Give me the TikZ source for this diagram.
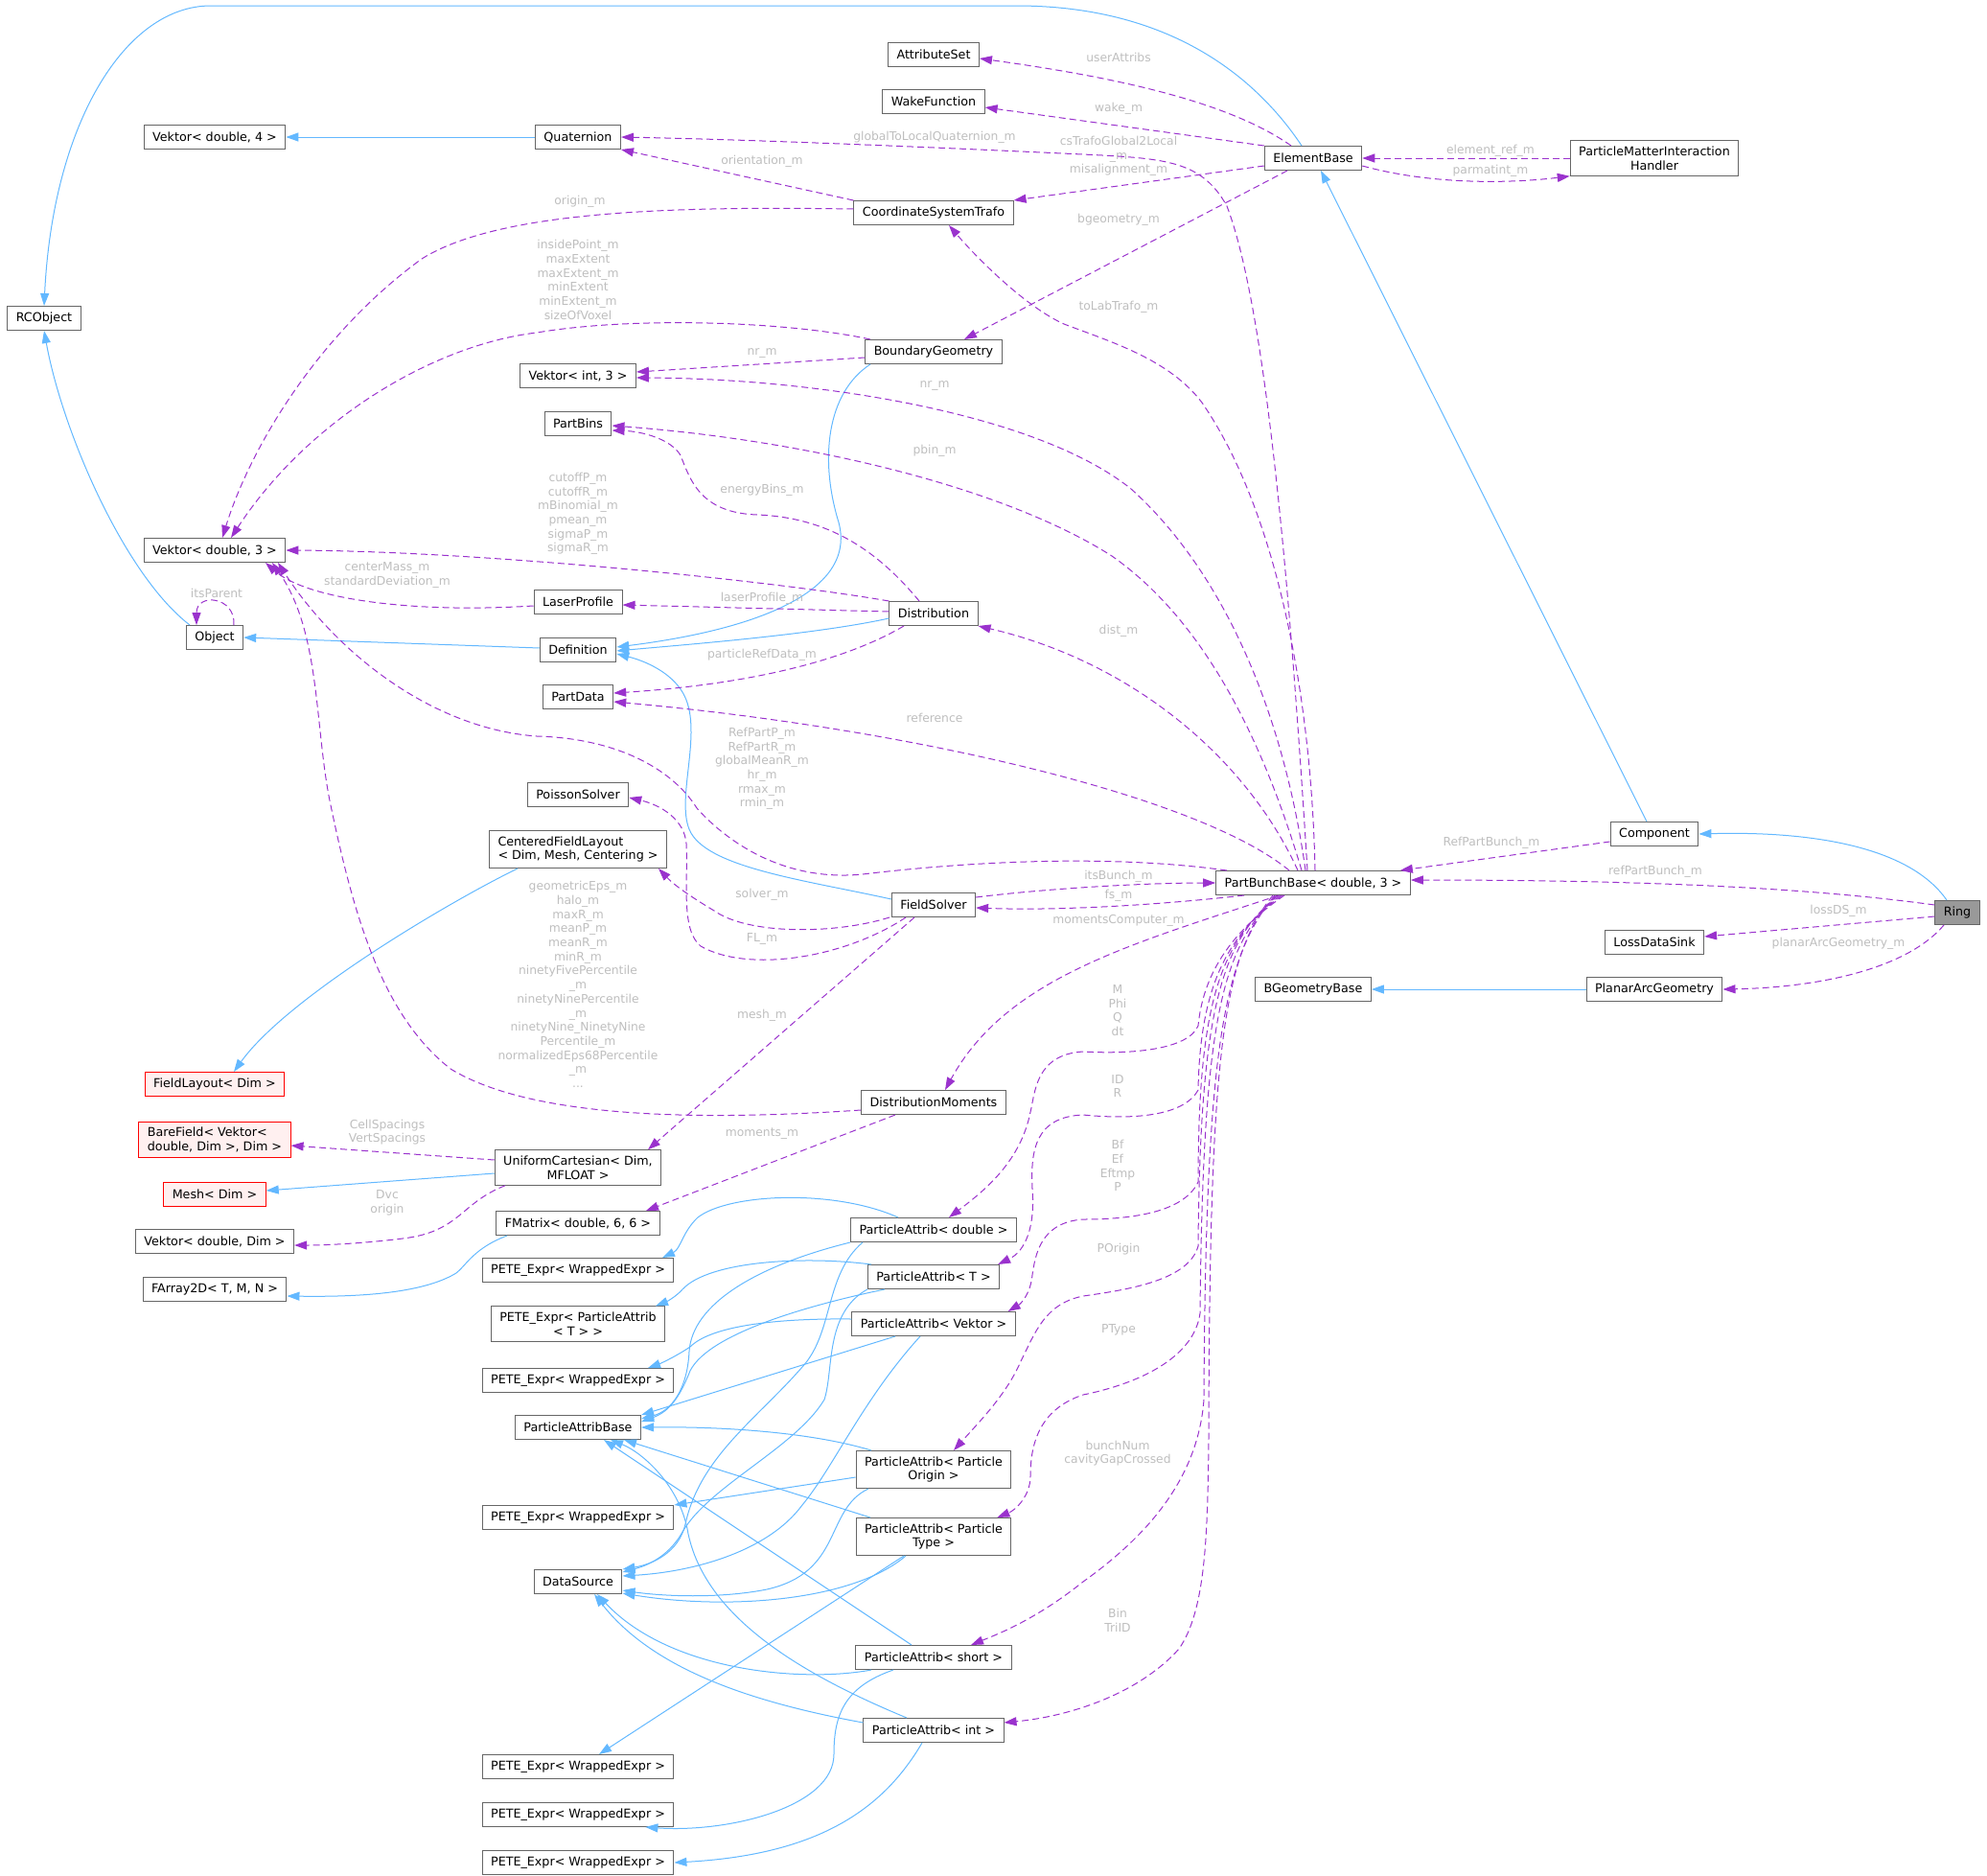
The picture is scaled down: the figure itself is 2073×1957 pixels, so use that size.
\documentclass[tikz,border=0pt]{standalone}
\usepackage{fontspec}
\setmainfont{DejaVu Sans}
\usetikzlibrary{arrows.meta}
\definecolor{EdgeBlue}{HTML}{63B8FF}
\definecolor{EdgePurple}{HTML}{9A32CD}
\definecolor{LabelGrey}{HTML}{BEBEBE}
\definecolor{NodeBorder}{HTML}{666666}
\definecolor{MissingBorder}{HTML}{FF0000}
\definecolor{MissingBg}{HTML}{FFF0F0}
\definecolor{FocusBg}{HTML}{999999}
\newcommand{\dxfont}{\fontsize{12.7}{14.7}\selectfont}
\newcommand{\dxlblfont}{\fontsize{12.3}{14.7}\selectfont}
\tikzset{
    classbox/.style={rectangle, draw=NodeBorder, fill=white, line width=1pt, font=\dxfont, align=center, inner xsep=9pt, inner ysep=6pt, minimum height=25pt},
    missingbox/.style={classbox, draw=MissingBorder, fill=MissingBg},
    focusbox/.style={classbox, fill=FocusBg},
    elabel/.style={font=\dxlblfont, text=LabelGrey, align=center, inner sep=0pt}
}
\begin{document}
\begin{tikzpicture}[
        x=1pt, y=-1pt,
        inherit/.style={draw=EdgeBlue, line width=1pt, -{Triangle[length=13pt, width=9pt]}},
        usage/.style={draw=EdgePurple, line width=1pt, dash pattern=on 7pt off 4pt, -{Triangle[length=13pt, width=9pt]}}
    ]
    \useasboundingbox (0,0) rectangle (2073,1957);

    % --- LEFT COLUMN ---
    \node[classbox] (rcobject) at (46,332) {RCObject};
    \node[classbox] (vdfour) at (224,143) {Vektor< double, 4 >};
    \node[classbox] (vdthree) at (224,574) {Vektor< double, 3 >};
    \node[classbox] (object) at (224,665) {Object};
    \node[missingbox] (fieldlayout) at (224,1131) {FieldLayout< Dim >};
    \node[missingbox, align=left] (barefield) at (224,1189) {BareField< Vektor<\\ double, Dim >, Dim >};
    \node[missingbox] (mesh) at (224,1246) {Mesh< Dim >};
    \node[classbox] (vddim) at (224,1295) {Vektor< double, Dim >};
    \node[classbox] (farray) at (224,1345) {FArray2D< T, M, N >};

    % --- SECOND COLUMN ---
    \node[classbox] (quaternion) at (603,143) {Quaternion};
    \node[classbox] (vithree) at (603,392) {Vektor< int, 3 >};
    \node[classbox] (partbins) at (603,442) {PartBins};
    \node[classbox] (laserprofile) at (603,628) {LaserProfile};
    \node[classbox] (definition) at (603,678) {Definition};
    \node[classbox] (partdata) at (603,727) {PartData};
    \node[classbox] (poisson) at (603,829) {PoissonSolver};
    \node[classbox, align=left] (cfl) at (603,886) {CenteredFieldLayout\\< Dim, Mesh, Centering >};
    \node[classbox] (unicart) at (603,1218) {UniformCartesian< Dim,\\MFLOAT >};
    \node[classbox] (fmatrix) at (603,1276) {FMatrix< double, 6, 6 >};
    \node[classbox] (petepat) at (603,1381) {PETE\_Expr< ParticleAttrib\\< T > >};
    \node[classbox] (pabase) at (603,1489) {ParticleAttribBase};
    \node[classbox] (datasource) at (603,1650) {DataSource};
    \foreach \pname/\py in {peteA/1325, peteB/1440, peteC/1583, peteD/1843, peteE/1893, peteF/1943}
        \node[classbox] (\pname) at (603,\py) {PETE\_Expr< WrappedExpr >};

    % --- THIRD COLUMN ---
    \node[classbox] (attrset) at (974,57) {AttributeSet};
    \node[classbox] (wakefn) at (974,106) {WakeFunction};
    \node[classbox] (cstrafo) at (974,222) {CoordinateSystemTrafo};
    \node[classbox] (boundgeo) at (974,367) {BoundaryGeometry};
    \node[classbox] (distrib) at (974,640) {Distribution};
    \node[classbox] (fieldsolver) at (974,944) {FieldSolver};
    \node[classbox] (distmoments) at (974,1150) {DistributionMoments};
    \node[classbox] (padouble) at (974,1283) {ParticleAttrib< double >};
    \node[classbox] (pat) at (974,1332) {ParticleAttrib< T >};
    \node[classbox] (pavektor) at (974,1381) {ParticleAttrib< Vektor >};
    \node[classbox] (paorigin) at (974,1533) {ParticleAttrib< Particle\\Origin >};
    \node[classbox] (patype) at (974,1603) {ParticleAttrib< Particle\\Type >};
    \node[classbox] (pashort) at (974,1729) {ParticleAttrib< short >};
    \node[classbox] (paint) at (974,1805) {ParticleAttrib< int >};

    % --- RIGHT COLUMNS ---
    \node[classbox] (elementbase) at (1370,165) {ElementBase};
    \node[classbox] (partbunch) at (1370,921) {PartBunchBase< double, 3 >};
    \node[classbox] (bgeobase) at (1370,1032) {BGeometryBase};
    \node[classbox] (pmih) at (1726,165) {ParticleMatterInteraction\\Handler};
    \node[classbox] (component) at (1726,870) {Component};
    \node[classbox] (lossds) at (1726,983) {LossDataSink};
    \node[classbox] (planararc) at (1726,1032) {PlanarArcGeometry};
    \node[focusbox] (ring) at (2042,952) {Ring};

    % --- INHERITANCE ---
    \draw[inherit] ([xshift=-12pt]elementbase.north) .. controls (1310,80) and (1220,6) .. (1060,6) -- (220,6) .. controls (130,6) and (55,130) .. (rcobject.north);
    \draw[inherit] ([xshift=-26pt]object.north) .. controls (130,600) and (65,450) .. (rcobject.south);
    \draw[inherit] ([yshift=2pt]definition.west) -- (object.east);
    \draw[inherit] ([xshift=-66pt]boundgeo.south) .. controls (862,410) and (855,480) .. (875,545) .. controls (895,620) and (780,658) .. ([yshift=3pt]definition.east);
    \draw[inherit] ([yshift=-5pt]distrib.west) .. controls (850,662) and (720,672) .. ([yshift=-1pt]definition.east);
    \draw[inherit] ([yshift=6pt]fieldsolver.west) .. controls (840,918) and (735,905) .. (719,865) .. controls (705,830) and (735,760) .. (712,722) .. controls (700,702) and (675,690) .. ([yshift=-4pt]definition.east);
    \draw[inherit] ([xshift=-63pt]cfl.south) .. controls (470,940) and (300,1040) .. ([xshift=20pt]fieldlayout.north);
    \draw[inherit] ([yshift=-6pt]unicart.west) -- ([yshift=4pt]mesh.east);
    \draw[inherit] ([xshift=-74pt]fmatrix.south) .. controls (495,1302) and (488,1318) .. (476,1328) .. controls (440,1350) and (370,1353) .. ([yshift=-7pt]farray.east);
    \draw[inherit] (planararc.west) -- (bgeobase.east);
    \draw[inherit] ([xshift=-11pt]ring.north) .. controls (1990,880) and (1880,867) .. (component.east);
    \draw[inherit] ([xshift=-8pt]component.north) -- ([xshift=8pt]elementbase.south);
    \draw[inherit] (quaternion.west) -- (vdfour.east);

    % --- PARTICLE ATTRIBUTES ---
    \draw[inherit] ([xshift=-37pt]padouble.north) .. controls (870,1240) and (760,1245) .. (728,1270) .. controls (712,1285) and (710,1303) .. ([xshift=88pt]peteA.north);
    \draw[inherit] (padouble.south west) .. controls (790,1320) and (722,1360) .. (719,1410) .. controls (717,1450) and (700,1472) .. ([yshift=9pt]pabase.east);
    \draw[inherit] ([xshift=-74pt]padouble.south) .. controls (860,1330) and (870,1390) .. (837,1426) .. controls (790,1480) and (730,1520) .. (715,1590) .. controls (708,1620) and (680,1632) .. (datasource.north east);
    \draw[inherit] ([xshift=-65pt]pat.north) .. controls (840,1310) and (740,1315) .. (712,1345) .. controls (705,1353) and (695,1358) .. ([xshift=81pt]petepat.north);
    \draw[inherit] ([xshift=-51pt]pat.south) .. controls (850,1360) and (740,1390) .. (720,1430) .. controls (710,1455) and (700,1472) .. ([yshift=6pt]pabase.east);
    \draw[inherit] (pat.south west) .. controls (860,1370) and (870,1430) .. (860,1460) .. controls (830,1510) and (740,1550) .. (712,1598) .. controls (700,1620) and (680,1632) .. ([yshift=-3pt]datasource.north east);
    \draw[inherit] ([yshift=5pt]pavektor.west) .. controls (800,1375) and (740,1385) .. (720,1405) .. controls (705,1415) and (690,1422) .. ([xshift=73pt]peteB.north);
    \draw[inherit] ([xshift=-40pt]pavektor.south) -- (pabase.north east);
    \draw[inherit] ([xshift=-14pt]pavektor.south) .. controls (900,1460) and (870,1530) .. (837,1570) .. controls (800,1620) and (720,1640) .. ([yshift=6pt]datasource.east);
    \draw[inherit] ([yshift=-8pt]paorigin.west) -- (peteC.north east);
    \draw[inherit] ([xshift=-65pt]paorigin.north) .. controls (850,1495) and (760,1488) .. (pabase.east);
    \draw[inherit] ([xshift=-68pt]paorigin.south) .. controls (860,1575) and (880,1640) .. (800,1658) .. controls (750,1668) and (690,1665) .. ([yshift=4pt]datasource.south east);
    \draw[inherit] ([xshift=-31pt]patype.south) -- ([xshift=22pt]peteD.north);
    \draw[inherit] ([xshift=-66pt]patype.north) -- ([xshift=48pt]pabase.south);
    \draw[inherit] ([xshift=-29pt]patype.south) .. controls (890,1670) and (760,1680) .. ([yshift=1pt]datasource.south east);
    \draw[inherit] ([xshift=-42pt]pashort.south) .. controls (880,1760) and (870,1790) .. (870,1830) .. controls (870,1885) and (760,1912) .. ([xshift=-30pt]peteE.south east);
    \draw[inherit] ([xshift=-23pt]pashort.north) -- ([xshift=27pt]pabase.south);
    \draw[inherit] ([xshift=-65pt]pashort.south) .. controls (840,1755) and (700,1745) .. ([xshift=20pt]datasource.south);
    \draw[inherit] ([xshift=-12pt]paint.south) .. controls (920,1890) and (850,1935) .. (peteF.east);
    \draw[inherit] ([xshift=-28pt]paint.north) .. controls (820,1740) and (735,1680) .. (718,1600) .. controls (710,1550) and (670,1515) .. ([xshift=34pt]pabase.south);
    \draw[inherit] ([yshift=8pt]paint.west) .. controls (780,1775) and (680,1740) .. ([xshift=17pt]datasource.south);

    % --- ELEMENT BASE MEMBERS ---
    \draw[usage] ([xshift=-23pt]elementbase.north) .. controls (1280,105) and (1160,80) .. ([yshift=-4pt]attrset.east);
    \draw[usage] (elementbase.north west) -- ([yshift=-6pt]wakefn.east);
    \draw[usage] ([yshift=-8pt]elementbase.west) -- (cstrafo.north east);
    \draw[usage] ([xshift=-27pt]elementbase.south) -- ([xshift=32pt]boundgeo.north);
    \draw[usage] ([yshift=-8pt]elementbase.east) .. controls (1490,192) and (1570,192) .. (pmih.south west);
    \draw[usage] (pmih.west) -- (elementbase.east);
    \node[elabel] (lbluserattribs) at (1167,60) {userAttribs};
    \node[elabel] (lblwake) at (1167,113) {wake\_m};
    \node[elabel] (lblcstrafo) at (1167,163) {csTrafoGlobal2Local\\\_m\\misalignment\_m};
    \node[elabel] (lblbgeometry) at (1167,229) {bgeometry\_m};
    \node[elabel] (lblelementref) at (1555,157) {element\_ref\_m};
    \node[elabel] (lblparmatint) at (1555,178) {parmatint\_m};

    % --- GEOMETRY AND DISTRIBUTION MEMBERS ---
    \draw[usage] (cstrafo.north west) -- (quaternion.south east);
    \draw[usage] ([yshift=4pt]cstrafo.west) .. controls (700,215) and (520,220) .. (440,270) .. controls (330,350) and (260,470) .. ([xshift=8pt]vdthree.north);
    \draw[usage] ([xshift=-66pt]boundgeo.north) .. controls (820,335) and (660,330) .. (560,347) .. controls (450,360) and (320,440) .. ([xshift=17pt]vdthree.north);
    \draw[usage] ([yshift=-6pt]boundgeo.west) -- ([yshift=4pt]vithree.east);
    \draw[usage] ([xshift=-15pt]distrib.north) .. controls (920,580) and (870,540) .. (790,537) .. controls (730,535) and (720,500) .. (710,475) .. controls (700,458) and (670,450) .. ([yshift=-7pt]partbins.east);
    \draw[usage] (distrib.north west) .. controls (800,605) and (500,575) .. (vdthree.east);
    \draw[usage] ([yshift=2pt]distrib.west) -- ([yshift=-3pt]laserprofile.east);
    \draw[usage] ([xshift=-31pt]distrib.south) .. controls (880,690) and (780,714) .. ([yshift=4pt]partdata.east);
    \draw[usage] ([yshift=-4pt]laserprofile.west) .. controls (430,640) and (320,625) .. ([xshift=53pt]vdthree.south);
    \draw[usage] ([xshift=20pt]object.north) .. controls (246,622) and (205,618) .. ([xshift=-19pt]object.north);
    \node[elabel] (lblorientation) at (795,168) {orientation\_m};
    \node[elabel] (lblorigin) at (605,210) {origin\_m};
    \node[elabel] (lblinside) at (603,292) {insidePoint\_m\\maxExtent\\maxExtent\_m\\minExtent\\minExtent\_m\\sizeOfVoxel};
    \node[elabel] (lblnrbg) at (795,369) {nr\_m};
    \node[elabel] (lblenergybins) at (795,511) {energyBins\_m};
    \node[elabel] (lblcutoff) at (603,536) {cutoffP\_m\\cutoffR\_m\\mBinomial\_m\\pmean\_m\\sigmaP\_m\\sigmaR\_m};
    \node[elabel] (lblcentermass) at (404,600) {centerMass\_m\\standardDeviation\_m};
    \node[elabel] (lbllaser) at (795,624) {laserProfile\_m};
    \node[elabel] (lblrefdata) at (795,683) {particleRefData\_m};
    \node[elabel] (lblitsparent) at (226,619) {itsParent};

    % --- PART BUNCH MEMBERS (UP) ---
    \draw[usage] ([xshift=-6pt]partbunch.north) .. controls (1345,600) and (1320,320) .. (1280,215) .. controls (1255,170) and (1220,166) .. (1150,162) .. controls (900,150) and (750,145) .. (quaternion.east);
    \draw[usage] ([xshift=2pt]partbunch.north) .. controls (1368,720) and (1330,530) .. (1254,420) .. controls (1220,375) and (1160,357) .. (1110,338) .. controls (1070,320) and (1020,270) .. ([xshift=16pt]cstrafo.south);
    \draw[usage] ([xshift=-8pt]partbunch.north) .. controls (1340,750) and (1280,600) .. (1180,510) .. controls (1080,430) and (850,395) .. ([yshift=-2pt]vithree.east);
    \draw[usage] ([xshift=-12pt]partbunch.north) .. controls (1320,780) and (1260,650) .. (1160,580) .. controls (1050,510) and (850,460) .. ([yshift=-2pt]partbins.east);
    \draw[usage] ([xshift=-16pt]partbunch.north) .. controls (1300,790) and (1180,690) .. (distrib.south east);
    \draw[usage] ([xshift=-25pt]partbunch.north) .. controls (1250,830) and (950,760) .. ([yshift=-5pt]partdata.east);
    \draw[usage] ([xshift=-90pt]partbunch.north) .. controls (1150,890) and (1000,900) .. (900,912) .. controls (820,920) and (760,880) .. (727,843) .. controls (700,800) and (640,770) .. (560,768) .. controls (450,760) and (350,680) .. ([xshift=66pt]vdthree.south);
    \node[elabel] (lblglobalquat) at (975,143) {globalToLocalQuaternion\_m};
    \node[elabel] (lbltolab) at (1167,320) {toLabTrafo\_m};
    \node[elabel] (lblnrpb) at (975,403) {nr\_m};
    \node[elabel] (lblpbin) at (975,470) {pbin\_m};
    \node[elabel] (lbldist) at (1167,658) {dist\_m};
    \node[elabel] (lblreference) at (975,749) {reference};
    \node[elabel] (lblrefpart) at (795,802) {RefPartP\_m\\RefPartR\_m\\globalMeanR\_m\\hr\_m\\rmax\_m\\rmin\_m};

    % --- FIELD SOLVER AND MOMENTS ---
    \draw[usage] ([yshift=8pt]fieldsolver.east) .. controls (1100,926) and (1200,921) .. (partbunch.west);
    \draw[usage] ([xshift=-72pt]partbunch.south) .. controls (1200,945) and (1100,950) .. ([yshift=-3pt]fieldsolver.east);
    \draw[usage] ([xshift=-36pt]partbunch.south) .. controls (1180,985) and (1050,1020) .. ([xshift=12pt]distmoments.north);
    \draw[usage] ([xshift=-46pt]fieldsolver.south) .. controls (870,975) and (780,975) .. (745,950) .. controls (725,938) and (705,925) .. ([xshift=-9pt]cfl.south east);
    \draw[usage] ([xshift=-29pt]fieldsolver.south) .. controls (880,1000) and (780,1015) .. (731,987) .. controls (710,970) and (718,920) .. (716,880) .. controls (714,855) and (690,840) .. ([yshift=-3pt]poisson.east);
    \draw[usage] ([xshift=-20pt]fieldsolver.south) -- ([xshift=73pt]unicart.north);
    \draw[usage] ([yshift=-8pt]distmoments.west) .. controls (750,1168) and (560,1170) .. (470,1115) .. controls (400,1060) and (370,960) .. (345,840) .. controls (328,760) and (335,660) .. ([xshift=60pt]vdthree.south);
    \draw[usage] ([xshift=-40pt]distmoments.south) -- ([xshift=71pt]fmatrix.north);
    \draw[usage] ([yshift=8pt]unicart.west) -- ([yshift=-6pt]barefield.east);
    \draw[usage] ([xshift=-76pt]unicart.south) .. controls (480,1255) and (480,1285) .. (420,1292) .. controls (380,1297) and (340,1299) .. ([yshift=-4pt]vddim.east);
    \node[elabel] (lblitsbunch) at (1167,914) {itsBunch\_m};
    \node[elabel] (lblfs) at (1167,934) {fs\_m};
    \node[elabel] (lblmomcomp) at (1167,960) {momentsComputer\_m};
    \node[elabel] (lblsolver) at (795,933) {solver\_m};
    \node[elabel] (lblfl) at (795,979) {FL\_m};
    \node[elabel] (lblmesh) at (795,1059) {mesh\_m};
    \node[elabel] (lblmoments) at (795,1183) {moments\_m};
    \node[elabel] (lblgeomeps) at (603,1027) {geometricEps\_m\\halo\_m\\maxR\_m\\meanP\_m\\meanR\_m\\minR\_m\\ninetyFivePercentile\\\_m\\ninetyNinePercentile\\\_m\\ninetyNine\_NinetyNine\\Percentile\_m\\normalizedEps68Percentile\\\_m\\...};
    \node[elabel] (lblspacings) at (404,1181) {CellSpacings\\VertSpacings};
    \node[elabel] (lbldvc) at (404,1255) {Dvc\\origin};

    % --- PART BUNCH MEMBERS (DOWN) ---
    \draw[usage] ([xshift=-30pt]partbunch.south) .. controls (1280,975) and (1255,1020) .. (1250,1070) .. controls (1240,1095) and (1180,1100) .. (1130,1097) .. controls (1080,1100) and (1080,1140) .. (1075,1160) .. controls (1065,1210) and (1030,1240) .. ([xshift=16pt]padouble.north);
    \draw[usage] ([xshift=-32pt]partbunch.south) .. controls (1280,975) and (1252,1030) .. (1250,1137) .. controls (1235,1165) and (1180,1168) .. (1130,1163) .. controls (1080,1165) and (1075,1200) .. (1077,1240) .. controls (1080,1280) and (1070,1305) .. ([xshift=-2pt]pat.north east);
    \draw[usage] ([xshift=-34pt]partbunch.south) .. controls (1275,980) and (1250,1040) .. (1250,1233) .. controls (1235,1265) and (1180,1272) .. (1130,1272) .. controls (1085,1275) and (1080,1310) .. (1077,1330) .. controls (1075,1350) and (1065,1360) .. ([xshift=-8pt]pavektor.north east);
    \draw[usage] ([xshift=-36pt]partbunch.south) .. controls (1275,980) and (1252,1050) .. (1250,1300) .. controls (1240,1335) and (1180,1345) .. (1130,1352) .. controls (1090,1360) and (1080,1390) .. (1065,1420) .. controls (1050,1455) and (1020,1485) .. ([xshift=21pt]paorigin.north);
    \draw[usage] ([xshift=-38pt]partbunch.south) .. controls (1275,990) and (1255,1060) .. (1252,1370) .. controls (1245,1420) and (1180,1445) .. (1130,1455) .. controls (1085,1470) and (1075,1505) .. (1075,1540) .. controls (1075,1560) and (1060,1575) .. ([xshift=-15pt]patype.north east);
    \draw[usage] ([xshift=-40pt]partbunch.south) .. controls (1275,1000) and (1258,1100) .. (1256,1460) .. controls (1250,1540) and (1200,1600) .. (1130,1650) .. controls (1080,1690) and (1040,1705) .. ([xshift=39pt]pashort.north);
    \draw[usage] ([xshift=-42pt]partbunch.south) .. controls (1275,1000) and (1262,1100) .. (1261,1500) .. controls (1260,1600) and (1258,1680) .. (1230,1720) .. controls (1190,1765) and (1120,1790) .. ([yshift=8pt]paint.east);
    \node[elabel] (lblmphi) at (1166,1054) {M\\Phi\\Q\\dt};
    \node[elabel] (lblidr) at (1166,1133) {ID\\R};
    \node[elabel] (lblfields) at (1166,1216) {Bf\\Ef\\Eftmp\\P};
    \node[elabel] (lblporigin) at (1167,1303) {POrigin};
    \node[elabel] (lblptype) at (1167,1387) {PType};
    \node[elabel] (lblbunchnum) at (1166,1516) {bunchNum\\cavityGapCrossed};
    \node[elabel] (lblbin) at (1166,1690) {Bin\\TriID};

    % --- RING AND COMPONENT ---
    \draw[usage] ([yshift=-8pt]component.west) -- ([xshift=-11pt]partbunch.north east);
    \draw[usage] ([yshift=8pt]ring.west) .. controls (1880,925) and (1700,918) .. ([yshift=3pt]partbunch.east);
    \draw[usage] ([yshift=-4pt]ring.west) -- ([yshift=6pt]lossds.east);
    \draw[usage] ([xshift=-14pt]ring.south) .. controls (1990,1010) and (1900,1030) .. (planararc.east);
    \node[elabel] (lblrefpbcomp) at (1556,879) {RefPartBunch\_m};
    \node[elabel] (lblrefpbring) at (1727,909) {refPartBunch\_m};
    \node[elabel] (lbllossds) at (1918,950) {lossDS\_m};
    \node[elabel] (lblplanararc) at (1918,984) {planarArcGeometry\_m};

\end{tikzpicture}
\end{document}
